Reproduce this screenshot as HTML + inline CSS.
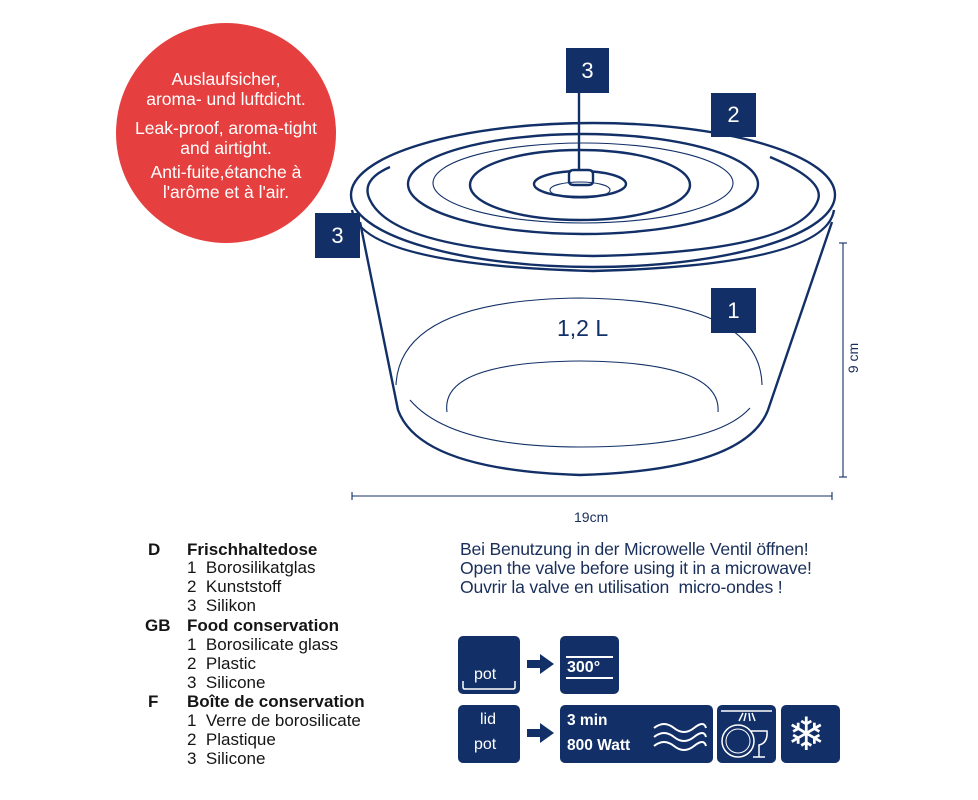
<!DOCTYPE html>
<html><head><meta charset="utf-8"><style>
body{margin:0;background:#fff;width:978px;height:800px;overflow:hidden;position:relative;font-family:"Liberation Sans",sans-serif}
.t{position:absolute;white-space:nowrap;line-height:1}
.l{color:#151515;font-size:17px}
.b{font-weight:bold}
.r{color:#1a2f5a;font-size:17.6px;letter-spacing:-0.2px}
.box{position:absolute;background:#123067;border-radius:5px}
.c{position:absolute;left:106px;width:240px;text-align:center;color:#fff;font-size:17.5px;line-height:20px;white-space:nowrap}
</style></head><body>
<svg width="978" height="800" style="position:absolute;left:0;top:0">
<circle cx="226" cy="133" r="110" fill="#e5403f"/>
<g fill="none" stroke="#123067" stroke-width="2.4">
<path d="M360 222 L398 410 Q420 470 580 475 Q745 470 768 410 L832 222"/>
<path d="M352 210 Q360 265 593 271 Q826 265 834 210"/>
<ellipse cx="593" cy="195" rx="242" ry="72"/>
<path d="M390 167 Q360 180 370 200 Q395 252 593 256 Q800 252 818 200 Q825 180 770 157"/>
<ellipse cx="583" cy="184" rx="175" ry="50"/>
<ellipse cx="580" cy="185" rx="110" ry="35"/>
<ellipse cx="580" cy="184" rx="46" ry="13"/>
<path d="M569 181 L569 174 Q569 170 574 170 L588 170 Q593 170 593 174 L593 181 Q593 185 588 185 L574 185 Q569 185 569 181Z" fill="#fff"/>
<line x1="579" y1="90" x2="579" y2="170"/>
</g>
<g fill="none" stroke="#123067" stroke-width="1.1">
<ellipse cx="583" cy="183" rx="150" ry="40"/>
<ellipse cx="580" cy="190" rx="30" ry="8"/>
<path d="M396 385 Q400 300 580 298 Q760 300 762 385"/>
<path d="M410 400 Q450 447 580 447 Q715 447 750 408"/>
<path d="M447 412 Q440 362 580 361 Q722 362 718 412"/>
<line x1="352" y1="496" x2="832" y2="496"/>
<line x1="352" y1="492" x2="352" y2="500"/><line x1="832" y1="492" x2="832" y2="500"/>
<line x1="843" y1="243" x2="843" y2="477"/>
<line x1="839" y1="243" x2="847" y2="243"/><line x1="839" y1="477" x2="847" y2="477"/>
</g>
<g fill="#123067">
<rect x="527" y="660" width="14" height="8"/><polygon points="540,654 554,664 540,674"/>
<rect x="527" y="729" width="14" height="8"/><polygon points="540,723 554,733 540,743"/>
</g>
</svg>
<div class="c" style="top:69px">Auslaufsicher,<br>aroma- und luftdicht.</div>
<div class="c" style="top:118px">Leak-proof, aroma-tight<br>and airtight.</div>
<div class="c" style="top:162px">Anti-fuite,étanche à<br>l'arôme et à l'air.</div>
<div class="box" style="left:566px;top:48px;width:43px;height:45px;border-radius:0;color:#fff;font-size:22px;text-align:center;line-height:45px">3</div>
<div class="box" style="left:711px;top:93px;width:45px;height:44px;border-radius:0;color:#fff;font-size:22px;text-align:center;line-height:44px">2</div>
<div class="box" style="left:315px;top:213px;width:45px;height:45px;border-radius:0;color:#fff;font-size:22px;text-align:center;line-height:45px">3</div>
<div class="box" style="left:711px;top:288px;width:45px;height:45px;border-radius:0;color:#fff;font-size:22px;text-align:center;line-height:45px">1</div>
<div class="t" style="left:557px;top:317px;font-size:23px;color:#123067">1,2 L</div>
<div class="t" style="left:574px;top:510px;font-size:14px;color:#1a2f5a">19cm</div>
<div class="t" style="left:838px;top:351px;font-size:14px;color:#1a2f5a;transform:rotate(-90deg)">9 cm</div>

<div class="t l b" style="left:148px;top:541px">D</div>
<div class="t l b" style="left:187px;top:541px">Frischhaltedose</div>
<div class="t l" style="left:187px;top:559px">1&nbsp; Borosilikatglas</div>
<div class="t l" style="left:187px;top:578px">2&nbsp; Kunststoff</div>
<div class="t l" style="left:187px;top:597px">3&nbsp; Silikon</div>
<div class="t l b" style="left:145px;top:617px">GB</div>
<div class="t l b" style="left:187px;top:617px">Food conservation</div>
<div class="t l" style="left:187px;top:636px">1&nbsp; Borosilicate glass</div>
<div class="t l" style="left:187px;top:655px">2&nbsp; Plastic</div>
<div class="t l" style="left:187px;top:674px">3&nbsp; Silicone</div>
<div class="t l b" style="left:148px;top:693px">F</div>
<div class="t l b" style="left:187px;top:693px">Boîte de conservation</div>
<div class="t l" style="left:187px;top:712px">1&nbsp; Verre de borosilicate</div>
<div class="t l" style="left:187px;top:731px">2&nbsp; Plastique</div>
<div class="t l" style="left:187px;top:750px">3&nbsp; Silicone</div>

<div class="t r" style="left:460px;top:541px">Bei Benutzung in der Microwelle Ventil öffnen!</div>
<div class="t r" style="left:460px;top:560px">Open the valve before using it in a microwave!</div>
<div class="t r" style="left:460px;top:579px">Ouvrir la valve en utilisation&nbsp; micro-ondes !</div>

<div class="box" style="left:458px;top:636px;width:62px;height:58px"></div>
<div class="t" style="left:474px;top:667px;color:#fff;font-size:16px">pot</div>
<svg width="978" height="800" style="position:absolute;left:0;top:0" fill="none" stroke="#fff" stroke-width="1.5">
<path d="M463 681 v6 q0 2 2 2 h48 q2 0 2 -2 v-6"/>
<path d="M463 719 v-6 q0 -2 2 -2 h48 q2 0 2 2 v6"/>
<path d="M463 748 v6 q0 2 2 2 h48 q2 0 2 -2 v-6"/>
</svg>
<div class="box" style="left:560px;top:636px;width:59px;height:58px"></div>
<div style="position:absolute;left:566px;top:656px;width:47px;height:2px;background:#fff"></div>
<div class="t b" style="left:567px;top:660px;color:#fff;font-size:16px">300°</div>
<div style="position:absolute;left:566px;top:677px;width:47px;height:2px;background:#fff"></div>

<div class="box" style="left:458px;top:705px;width:62px;height:58px"></div>
<div class="t" style="left:480px;top:712px;color:#fff;font-size:16px">lid</div>
<div class="t" style="left:474px;top:737px;color:#fff;font-size:16px">pot</div>
<div class="box" style="left:560px;top:705px;width:153px;height:58px"></div>
<div class="t b" style="left:567px;top:713px;color:#fff;font-size:15.5px">3 min</div>
<div class="t b" style="left:567px;top:738px;color:#fff;font-size:15.5px">800 Watt</div>
<svg width="978" height="800" style="position:absolute;left:0;top:0" fill="none" stroke="#fff" stroke-width="2">
<path d="M654 728 q10 -8 20 0 t20 0 t12 0"/>
<path d="M654 737 q10 -8 20 0 t20 0 t12 0"/>
<path d="M654 746 q10 -8 20 0 t20 0 t12 0"/>
</svg>
<div class="box" style="left:717px;top:705px;width:59px;height:58px"></div>
<svg width="978" height="800" style="position:absolute;left:0;top:0" fill="none" stroke="#fff" stroke-width="1.5">
<line x1="721" y1="711" x2="772" y2="711"/>
<path d="M743 713 l-4 8 M746 713 l-2 8 M749 713 l1 8 M752 713 l3 8"/>
<circle cx="738" cy="741" r="16"/><circle cx="738" cy="741" r="12" stroke-width="1"/>
<path d="M751 731 h16 q1 12 -8 14 v12 M753 757 h12" fill="none"/>
</svg>
<div class="box" style="left:781px;top:705px;width:59px;height:58px"></div>
<div class="t" style="left:787px;top:710px;color:#fff;font-size:46px;line-height:48px">❄</div>
</body></html>
